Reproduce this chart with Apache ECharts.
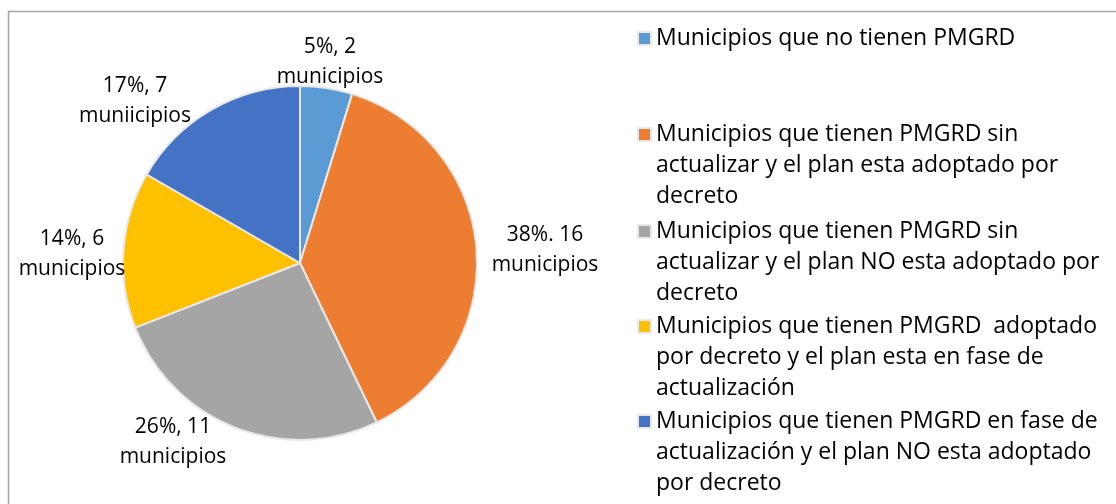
<!DOCTYPE html>
<html lang="es">
<head>
    <meta charset="UTF-8">
    <title>Municipios y PMGRD</title>
    <script type="text/javascript" src="https://cdn.jsdelivr.net/npm/echarts@6/dist/echarts.min.js"></script>
    <style>
        html, body { margin: 0; padding: 0; background: #fff; }
        #main { width: 1116px; height: 504px; }
    </style>
</head>
<body>
<div id="main"></div>
<script>
    // categorias (texto de la leyenda, con sus saltos de linea)
    let categories = [
        'Municipios que no tienen PMGRD',
        'Municipios que tienen PMGRD sin\nactualizar y el plan esta adoptado por\ndecreto',
        'Municipios que tienen PMGRD sin\nactualizar y el plan NO esta adoptado por\ndecreto',
        'Municipios que tienen PMGRD  adoptado\npor decreto y el plan esta en fase de\nactualización',
        'Municipios que tienen PMGRD en fase de\nactualización y el plan NO esta adoptado\npor decreto'
    ];
    // numero de municipios
    let values = [2, 16, 11, 6, 7];
    // etiquetas tal como aparecen en el grafico
    let labels = [
        '5%, 2\nmunicipios',
        '38%. 16\nmunicipios',
        '26%, 11\nmunicipios',
        '14%, 6\nmunicipios',
        '17%, 7\nmuniicipios'
    ];
    let colors = ['#5B9BD5', '#ED7D31', '#A5A5A5', '#FFC000', '#4472C4'];

    // posicion de cada etiqueta (centro del texto)
    let labelPos = [[330, 62], [545, 250], [173, 442], [72, 254], [135, 101]];
    // posicion vertical de cada bloque de la leyenda
    let legendTops = [18, 113, 210, 305, 400];

    var LINE = 31;
    var chartDom = document.getElementById('main');
    var myChart = echarts.init(chartDom);

    var legends = categories.map(function (name, i) {
        var n = name.split('\n').length;
        var h = n * LINE;
        var y0 = (LINE - 13) / 2;
        // cuadrado alineado con la primera linea del texto
        var icon = 'path://M0,0 M13,' + h + ' M0,' + y0 + 'h13v13h-13z';
        return {
            data: [{ name: name, icon: n > 1 ? icon : 'rect' }],
            left: 632,
            top: legendTops[i],
            orient: 'vertical',
            itemWidth: 13,
            itemHeight: n > 1 ? h : 13,
            itemGap: 0,
            selectedMode: false,
            textStyle: {
                fontFamily: 'Open Sans',
                fontSize: 23,
                color: '#000',
                lineHeight: LINE
            }
        };
    });

    var option = {
        color: colors,
        animation: false,
        legend: legends,
        graphic: [{
            type: 'rect',
            shape: { x: 8.5, y: 11.5, width: 1200, height: 600 },
            style: { fill: 'none', stroke: '#a6a6a6', lineWidth: 1.5 },
            silent: true
        }],
        series: [{
            type: 'pie',
            center: [300, 263],
            radius: 177,
            startAngle: 90,
            clockwise: true,
            data: values.map(function (v, i) {
                return { name: categories[i], value: v };
            }),
            itemStyle: { borderColor: '#e8e8e8', borderWidth: 2 },
            label: {
                show: true,
                position: 'outside',
                formatter: function (p) { return labels[p.dataIndex]; },
                fontFamily: 'Open Sans',
                fontSize: 21,
                lineHeight: 30,
                color: '#000',
                overflow: 'none'
            },
            labelLine: { show: false },
            labelLayout: function (p) {
                var pos = labelPos[p.dataIndex];
                return { x: pos[0], y: pos[1], align: 'center', verticalAlign: 'middle' };
            },
            emphasis: { disabled: true }
        }]
    };
    myChart.setOption(option);
</script>
</body>
</html>
